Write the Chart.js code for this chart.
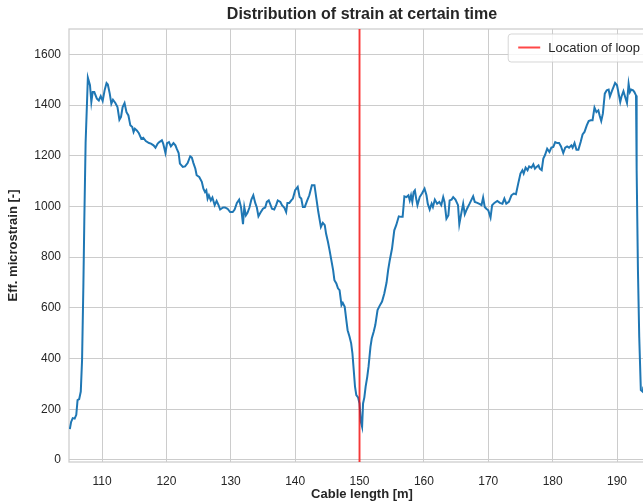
<!doctype html>
<html>

<head>
	<title>Strain distribution</title>
	<script src="https://cdn.jsdelivr.net/npm/chart.js@4/dist/chart.umd.min.js"></script>
	<style>
		html, body { margin: 0; padding: 0; background: #fff; overflow: hidden; }
		#canvas-holder { width: 643px; height: 504px; overflow: hidden; }
	</style>
</head>

<body>
	<div id="canvas-holder">
		<canvas id="chart-area" width="656" height="504"></canvas>
	</div>

	<script>
		// cable position [m] and effective microstrain along the fibre
		const cableLength = [
			105.0, 105.2, 105.45, 105.75, 106.0, 106.2, 106.45, 106.7, 106.9, 107.1,
			107.25, 107.45, 107.8, 108.13, 108.34, 108.55, 108.8, 109.2, 109.5, 109.8,
			110.1, 110.4, 110.7, 110.9, 111.2, 111.45, 111.7, 112.07, 112.4, 112.7,
			112.95, 113.2, 113.5, 113.8, 114.1, 114.4, 114.7, 114.9, 115.1, 115.4,
			115.7, 116.1, 116.4, 116.8, 117.3, 117.6, 118.0, 118.3, 118.65, 118.9,
			119.3, 119.5, 119.85, 120.1, 120.4, 120.7, 121.1, 121.4, 121.6, 121.9,
			122.1, 122.55, 122.9, 123.3, 123.7, 123.95, 124.2, 124.5, 124.7, 125.1,
			125.5, 125.75, 126.0, 126.2, 126.4, 126.6, 126.9, 127.15, 127.5, 127.8,
			128.1, 128.35, 128.8, 129.1, 129.5, 129.9, 130.3, 130.6, 130.95, 131.3,
			131.6, 131.9, 132.1, 132.35, 132.6, 132.9, 133.2, 133.5, 133.8, 134.05,
			134.3, 134.6, 135.0, 135.35, 135.6, 135.9, 136.1, 136.4, 136.75, 137.05,
			137.3, 137.7, 137.95, 138.3, 138.6, 138.8, 139.1, 139.4, 139.65, 140.0,
			140.4, 140.7, 140.95, 141.2, 141.5, 141.85, 142.2, 142.6, 143.0, 143.3,
			143.6, 144.0, 144.3, 144.6, 144.8, 145.1, 145.35, 145.6, 145.9, 146.1,
			146.4, 146.65, 146.9, 147.2, 147.4, 147.7, 147.95, 148.15, 148.45, 148.7,
			148.9, 149.1, 149.3, 149.5, 149.77, 150.0, 150.2, 150.4, 150.55, 150.75,
			150.95, 151.2, 151.4, 151.7, 151.9, 152.2, 152.45, 152.8, 153.1, 153.5,
			153.85, 154.2, 154.45, 154.7, 155.05, 155.4, 155.7, 156.1, 156.45, 156.7,
			156.97, 157.3, 157.6, 157.8, 158.0, 158.2, 158.4, 158.6, 158.8, 159.0,
			159.35, 159.7, 160.1, 160.4, 160.6, 160.9, 161.2, 161.4, 161.7, 162.05,
			162.4, 162.7, 163.0, 163.2, 163.5, 163.8, 164.0, 164.3, 164.55, 164.9,
			165.3, 165.5, 165.8, 166.1, 166.35, 166.7, 167.1, 167.4, 167.65, 167.9,
			168.3, 168.7, 168.95, 169.2, 169.45, 169.7, 170.0, 170.35, 170.6, 170.95,
			171.4, 171.8, 172.2, 172.5, 172.8, 173.2, 173.6, 173.97, 174.3, 174.65,
			175.0, 175.3, 175.5, 175.8, 176.1, 176.35, 176.7, 177.0, 177.25, 177.5,
			177.8, 178.0, 178.3, 178.55, 178.8, 179.15, 179.5, 179.8, 180.1, 180.4,
			180.7, 181.0, 181.3, 181.65, 181.95, 182.25, 182.55, 182.9, 183.1, 183.4,
			183.7, 184.0, 184.35, 184.65, 184.95, 185.3, 185.6, 185.9, 186.2, 186.5,
			186.8, 187.1, 187.3, 187.55, 187.8, 188.1, 188.4, 188.7, 188.9, 189.2,
			189.45, 189.7, 190.0, 190.25, 190.5, 190.7, 191.0, 191.3, 191.55, 191.8,
			192.0, 192.2, 192.5, 192.7, 192.95, 193.05, 193.25, 193.45, 193.7, 194.0,
			194.1
		];
		const microstrain = [
			122, 150, 165, 163, 178, 236, 240, 270, 394, 683,
			946, 1250, 1508, 1478, 1412, 1451, 1451, 1425, 1418, 1435,
			1416, 1458, 1487, 1481, 1445, 1405, 1421, 1408, 1392, 1342,
			1353, 1392, 1408, 1372, 1359, 1320, 1313, 1294, 1307, 1300,
			1290, 1267, 1271, 1258, 1250, 1248, 1241, 1232, 1248, 1254,
			1261, 1248, 1211, 1250, 1254, 1237, 1250, 1241, 1228, 1211,
			1169, 1156, 1158, 1171, 1198, 1193, 1171, 1149, 1123, 1116,
			1097, 1070, 1057, 1064, 1031, 1044, 1024, 1035, 1005, 1022,
			1005, 988, 996, 996, 991, 978, 978, 988, 1014, 1027,
			996, 930, 998, 965, 975, 996, 1027, 1044, 1014, 996,
			961, 975, 991, 996, 1018, 1024, 1011, 991, 988, 1005,
			1024, 1018, 1005, 996, 978, 1014, 1014, 1024, 1031, 1064,
			1077, 1037, 1031, 998, 998, 1022, 1044, 1084, 1084, 1031,
			978, 919, 935, 926, 893, 860, 827, 791, 749, 709,
			696, 677, 670, 611, 620, 604, 552, 512, 486, 460,
			420, 355, 289, 256, 247, 223, 151, 131, 223, 247,
			289, 328, 368, 446, 479, 506, 532, 591, 607, 625,
			657, 700, 750, 788, 834, 906, 926, 961, 959, 959,
			1040, 1037, 1044, 1024, 1044, 1018, 1057, 1064, 1031, 1005,
			1037, 1051, 1070, 1044, 1011, 988, 1011, 998, 1027, 1011,
			1018, 1005, 1037, 1018, 952, 965, 1024, 1027, 1037, 1027,
			1005, 930, 972, 1011, 969, 991, 1011, 1027, 1040, 1018,
			1014, 1009, 1005, 1035, 998, 991, 985, 956, 1005, 1014,
			1022, 1014, 1011, 1031, 1011, 1018, 1044, 1051, 1048, 1090,
			1130, 1143, 1130, 1153, 1143, 1158, 1153, 1166, 1149, 1156,
			1162, 1149, 1143, 1189, 1202, 1228, 1215, 1232, 1235, 1254,
			1250, 1250, 1237, 1211, 1232, 1237, 1232, 1241, 1232, 1250,
			1224, 1224, 1254, 1284, 1294, 1320, 1337, 1340, 1340, 1390,
			1372, 1379, 1359, 1337, 1366, 1445, 1458, 1461, 1434, 1455,
			1471, 1487, 1478, 1445, 1412, 1434, 1455, 1429, 1408, 1484,
			1451, 1461, 1458, 1451, 1438, 1143, 749, 486, 276, 269,
			289
		];
		const loopLocation = 150;
		const lengthTicks = [110, 120, 130, 140, 150, 160, 170, 180, 190];
		const strainTicks = [0, 200, 400, 600, 800, 1000, 1200, 1400, 1600];

		const X_MIN = 104.87, X_MAX = 195.9;
		const Y_MIN = -8, Y_MAX = 1700;

		const TEXT = '#262626';
		const GRID = '#cccccc';
		const FONT = "'Liberation Sans', Arial, sans-serif";

		// frame around the plot area, like the axes spines
		const frame = {
			id: 'frame',
			beforeDatasetsDraw(chart) {
				const {ctx, chartArea: a} = chart;
				ctx.save();
				ctx.strokeStyle = GRID;
				ctx.lineWidth = 1.25;
				ctx.strokeRect(a.left, a.top, a.right - a.left, a.bottom - a.top);
				ctx.restore();
			}
		};

		// boxed legend in the upper right corner of the plot area
		const boxLegend = {
			id: 'boxLegend',
			afterDatasetsDraw(chart) {
				const {ctx, chartArea: a} = chart;
				const ds = chart.data.datasets[0];
				ctx.save();
				ctx.font = '13px ' + FONT;
				const tw = ctx.measureText(ds.label).width;
				const w = 10 + 22 + 8 + tw + 8;
				const h = 28;
				const x = a.right - 7 - w;
				const y = a.top + 5;
				ctx.beginPath();
				ctx.roundRect(x, y, w, h, 3);
				ctx.fillStyle = 'rgba(255,255,255,0.8)';
				ctx.fill();
				ctx.strokeStyle = 'rgba(204,204,204,0.8)';
				ctx.lineWidth = 1;
				ctx.stroke();
				ctx.beginPath();
				ctx.moveTo(x + 10, y + 13.5);
				ctx.lineTo(x + 32, y + 13.5);
				ctx.strokeStyle = ds.borderColor;
				ctx.lineWidth = ds.borderWidth;
				ctx.stroke();
				ctx.fillStyle = TEXT;
				ctx.textBaseline = 'middle';
				ctx.fillText(ds.label, x + 40, y + 14);
				ctx.restore();
			}
		};

		const strainPoints = cableLength.map((x, i) => ({x: x, y: microstrain[i]}));

		const ctx2d = document.getElementById('chart-area').getContext('2d');
		window.strainChart = new Chart(ctx2d, {
			type: 'line',
			data: {
				datasets: [{
					label: 'Location of loop',
					data: [{x: loopLocation, y: Y_MIN}, {x: loopLocation, y: Y_MAX}],
					borderColor: 'rgba(255,0,0,0.72)',
					borderWidth: 2,
					pointRadius: 0
				}, {
					label: 'strain',
					data: strainPoints,
					borderColor: '#1f77b4',
					borderWidth: 2,
					pointRadius: 0,
					tension: 0
				}]
			},
			options: {
				responsive: false,
				animation: false,
				devicePixelRatio: 1,
				layout: {padding: {left: 0, right: 1, top: 0, bottom: 0}},
				plugins: {
					legend: {display: false},
					tooltip: {enabled: false},
					title: {
						display: true,
						fullSize: false,
						text: 'Distribution of strain at certain time',
						color: TEXT,
						font: {family: FONT, size: 16, weight: 'bold', lineHeight: 1.2},
						padding: {top: 5.4, bottom: 4.4}
					}
				},
				scales: {
					x: {
						type: 'linear',
						min: X_MIN,
						max: X_MAX,
						afterBuildTicks: (s) => { s.ticks = lengthTicks.map(v => ({value: v})); },
						afterFit: (s) => { s.height = 42; },
						grid: {color: GRID, lineWidth: 1, drawTicks: false},
						border: {display: false},
						ticks: {
							color: TEXT,
							padding: 12,
							maxRotation: 0,
							font: {family: FONT, size: 12},
							callback: (v) => String(v)
						},
						title: {
							display: true,
							text: 'Cable length [m]',
							color: TEXT,
							font: {family: FONT, size: 13, weight: 'bold'},
							padding: {top: 0, bottom: 2}
						}
					},
					y: {
						min: Y_MIN,
						max: Y_MAX,
						afterBuildTicks: (s) => { s.ticks = strainTicks.map(v => ({value: v})); },
						afterFit: (s) => { s.width = 69; },
						grid: {color: GRID, lineWidth: 1, drawTicks: false},
						border: {display: false},
						ticks: {
							color: TEXT,
							padding: 8,
							font: {family: FONT, size: 12},
							callback: (v) => String(v)
						},
						title: {
							display: true,
							text: 'Eff. microstrain [-]',
							color: TEXT,
							font: {family: FONT, size: 13, weight: 'bold'},
							padding: {top: 6, bottom: 0}
						}
					}
				}
			},
			plugins: [frame, boxLegend]
		});
	</script>
</body>
</html>
